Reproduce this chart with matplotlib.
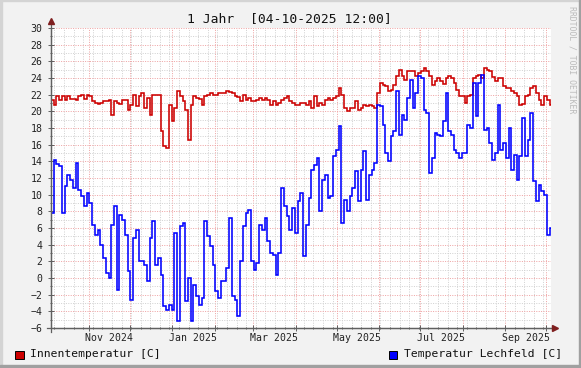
import numpy as np
import matplotlib
matplotlib.use("Agg")
import matplotlib.pyplot as plt
import matplotlib.dates as mdates
import matplotlib.ticker as mticker
from matplotlib.patches import Rectangle

# ---------------- data ----------------
title = "1 Jahr  [04-10-2025 12:00]"
watermark = "RRDTOOL / TOBI OETIKER"
start = np.datetime64("2024-10-04T12:00")
end = np.datetime64("2025-10-04T12:00")
step_days = 2

series_names = ["Innentemperatur [C]", "Temperatur Lechfeld [C]"]
series_colors = ["#CC0000", "#0000FF"]

innen = [
    21.4, 20.8, 21.8, 21.4, 21.8, 21.4, 21.8, 21.5, 21.5, 21.4,
    21.8, 22.0, 21.5, 22.0, 21.8, 21.3, 21.0, 20.9, 21.0, 21.2,
    21.3, 21.4, 19.6, 21.2, 21.0, 20.9, 21.4, 21.4, 20.2, 20.8,
    22.0, 20.6, 21.8, 22.2, 20.4, 21.6, 19.6, 22.0, 22.0, 22.0,
    17.6, 15.8, 15.6, 20.8, 18.8, 20.4, 22.4, 21.8, 21.2, 20.2,
    16.6, 20.8, 21.8, 21.6, 21.5, 20.8, 21.8, 22.0, 22.2, 22.0,
    22.0, 22.2, 22.2, 22.2, 22.4, 22.3, 22.2, 21.8, 21.7, 21.3,
    22.0, 21.4, 21.6, 21.2, 21.2, 21.4, 21.6, 21.4, 21.6, 21.4,
    20.8, 21.2, 20.8, 21.0, 21.4, 21.6, 21.8, 21.2, 21.0, 20.8,
    20.8, 21.0, 21.0, 20.8, 21.2, 20.4, 21.8, 20.6, 21.0, 20.8,
    21.4, 21.6, 21.4, 21.6, 21.8, 22.8, 22.0, 20.4, 20.0, 20.4,
    20.4, 21.2, 20.2, 20.4, 20.8, 20.6, 20.8, 20.6, 20.4, 22.2,
    23.4, 23.2, 23.0, 22.4, 22.6, 23.2, 24.2, 25.0, 24.3, 23.8,
    24.8, 24.9, 24.8, 24.2, 24.6, 24.8, 25.2, 24.8, 24.2, 23.2,
    23.6, 24.0, 23.6, 23.3, 24.0, 24.2, 24.0, 23.4, 22.6, 21.9,
    21.8, 21.0, 21.8, 22.0, 24.0, 24.2, 24.4, 24.0, 25.2, 25.0,
    24.8, 24.1, 23.6, 24.0, 24.0, 23.0, 22.8, 22.8, 22.4, 22.2,
    21.8, 20.8, 20.9, 21.8, 22.0, 22.8, 23.0, 22.2, 21.4, 20.8,
    21.8, 21.4, 20.8,
]

lechfeld = [
    7.8, 14.2, 13.7, 13.4, 7.8, 11.0, 12.4, 11.8, 10.8, 13.8,
    10.6, 9.8, 8.6, 10.2, 9.0, 6.4, 5.2, 5.8, 4.0, 2.4,
    0.6, 0.0, 6.4, 8.6, -1.4, 7.6, 7.0, 5.2, 0.8, -2.6,
    4.8, 5.8, 2.0, 2.0, 1.6, -0.4, 4.8, 6.8, 1.6, 2.4,
    0.4, -3.4, -3.8, -3.2, -3.8, 5.4, -5.2, 6.2, 6.6, -2.8,
    0.0, -5.2, -0.8, -2.2, -3.2, -2.4, 6.8, 5.0, 3.9, 1.6,
    -1.6, -2.4, -0.4, -0.4, 1.2, 7.2, -2.2, -2.6, -4.6, 2.0,
    6.2, 7.8, 8.2, 2.0, 1.0, 1.8, 6.4, 5.8, 7.2, 4.4,
    3.0, 2.8, 0.4, 3.0, 10.8, 8.6, 7.4, 5.8, 8.4, 5.4,
    9.2, 10.2, 2.6, 6.4, 9.6, 13.0, 13.6, 14.4, 8.0, 11.8,
    12.4, 9.6, 9.8, 14.6, 15.4, 18.2, 6.6, 9.4, 8.0, 9.8,
    10.8, 12.8, 9.2, 13.0, 15.2, 9.4, 12.4, 13.0, 13.8, 20.8,
    20.6, 18.4, 15.0, 14.0, 17.0, 17.6, 22.4, 17.2, 19.6, 19.0,
    21.6, 23.8, 20.4, 22.2, 24.2, 24.0, 20.2, 19.8, 12.6, 14.4,
    17.4, 17.2, 17.0, 18.8, 22.2, 17.6, 17.2, 15.4, 15.0, 14.4,
    15.0, 15.0, 18.4, 18.0, 23.4, 19.4, 23.4, 24.4, 17.8, 18.0,
    16.2, 14.2, 15.0, 20.8, 15.4, 16.2, 14.4, 18.0, 13.0, 14.8,
    11.8, 14.6, 19.2, 14.6, 16.6, 19.8, 11.6, 9.2, 11.2, 10.4,
    10.0, 5.2, 6.0,
]

month_label_texts = ["Nov 2024", "Jan 2025", "Mar 2025", "May 2025", "Jul 2025", "Sep 2025"]
month_label_dates = ["2024-11-16", "2025-01-16", "2025-03-16", "2025-05-16", "2025-07-16", "2025-09-16"]
y_min, y_max = -6, 30
y_label_step = 2
y_minor_step = 1

# ---------------- figure ----------------
W, H = 581, 368
fig = plt.figure(figsize=(W / 100, H / 100), dpi=100)
fig.patch.set_facecolor("#F2F2F2")
plt.rcParams["font.family"] = ["DejaVu Sans Mono", "DejaVu Sans"]

px = lambda v: v / W
py = lambda v: v / H
fig.patches.append(Rectangle((0, 0), px(2), 1, transform=fig.transFigure, color="#D4D4D4", zorder=0))
fig.patches.append(Rectangle((0, 1 - py(1)), 1, py(1), transform=fig.transFigure, color="#D4D4D4", zorder=0))
fig.patches.append(Rectangle((0, 0), 1, py(3), transform=fig.transFigure, color="#A0A0A0", zorder=0))
fig.patches.append(Rectangle((1 - px(2), 0), px(2), 1, transform=fig.transFigure, color="#A0A0A0", zorder=0))

ax = fig.add_axes([px(51), py(40), px(500), py(300)])
ax.set_facecolor("white")

def to_num(d):
    return mdates.date2num(d.astype("datetime64[s]").astype(object))

n = len(innen)
times = start + np.arange(n) * np.timedelta64(step_days, "D")
tnum = np.array([to_num(t) for t in times] + [to_num(end)])

for vals, col in zip([innen, lechfeld], series_colors):
    v = list(vals) + [vals[-1]]
    ax.plot(tnum, v, drawstyle="steps-post", color=col, lw=1.15, zorder=3,
            solid_joinstyle="miter")

ax.set_xlim(to_num(start), to_num(end))
ax.set_ylim(y_min, y_max)

ax.xaxis.set_major_locator(mdates.MonthLocator())
ax.xaxis.set_minor_locator(mdates.WeekdayLocator(byweekday=mdates.MO))
ax.xaxis.set_major_formatter(mticker.NullFormatter())
ax.yaxis.set_major_locator(mticker.MultipleLocator(y_label_step))
ax.yaxis.set_minor_locator(mticker.MultipleLocator(y_minor_step))
ax.set_axisbelow(True)
grid_minor = dict(color="#D2D2D2", lw=0.72, linestyle=(0, (1, 1.4)))
grid_major = dict(color="#EFA5A5", lw=0.72, linestyle=(0, (1, 1.4)))
ax.grid(which="minor", axis="both", **grid_minor)
ax.grid(which="major", axis="both", **grid_major)

for s in ["top", "right"]:
    ax.spines[s].set_visible(False)
for s in ["left", "bottom"]:
    ax.spines[s].set_color("#606060")
    ax.spines[s].set_linewidth(0.9)

ax.tick_params(axis="both", which="both", direction="inout", color="#606060", width=0.7)
ax.tick_params(axis="both", which="major", length=4)
ax.tick_params(axis="both", which="minor", length=2)
ax.tick_params(axis="y", which="major", labelsize=7.1, pad=4.2, labelcolor="#222222")
ax.set_yticks(np.arange(y_min, y_max + 1, y_label_step))

xtrans = ax.get_xaxis_transform()
for txt, d in zip(month_label_texts, month_label_dates):
    ax.text(to_num(np.datetime64(d)), -9.8 / 300, txt, transform=xtrans,
            ha="center", va="center", fontsize=7.1, color="#222222")

arrow_col = "#7F1F1F"
ax.plot([0, 0], [-0.012, 1.02], transform=ax.transAxes, clip_on=False, color="#606060", lw=0.9, zorder=4)
ax.plot([-0.008, 1.006], [0, 0], transform=ax.transAxes, clip_on=False, color="#606060", lw=0.9, zorder=4)
ax.plot([0], [1.022], marker="^", ms=4.2, color=arrow_col, transform=ax.transAxes, clip_on=False, zorder=5)
ax.plot([1.008], [0], marker=">", ms=4.2, color=arrow_col, transform=ax.transAxes, clip_on=False, zorder=5)

fig.text(0.498, 1 - py(19), title, ha="center", va="center", fontsize=9.4, color="#111111")

fig.text(px(572), 1 - py(6), watermark, rotation=270, ha="center", va="top",
         fontsize=5.9, color="#BBBBBB")

legend_box_x = [15, 389]
legend_text_x = [30, 404]
for name, col, bx, tx in zip(series_names, series_colors, legend_box_x, legend_text_x):
    fig.patches.append(Rectangle((px(bx), py(368 - 359)), px(8.5), py(8.5), transform=fig.transFigure,
                                 facecolor=col, edgecolor="black", lw=0.7, zorder=5))
    fig.text(px(tx), py(368 - 354), name, ha="left", va="center", fontsize=8.2, color="#111111")

fig.savefig("out.png", dpi=100, facecolor=fig.get_facecolor())
